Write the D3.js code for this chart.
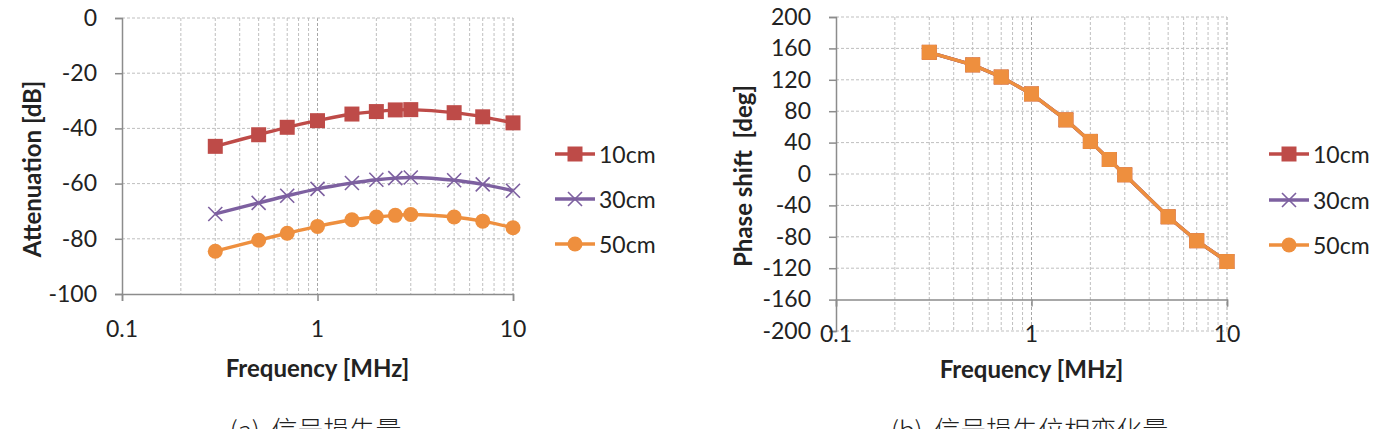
<!DOCTYPE html>
<html><head><meta charset="utf-8">
<script src="https://cdn.jsdelivr.net/npm/d3@7"></script>
<style>
html,body{margin:0;padding:0;background:#fff;}
svg{display:block;}
text{font-family:Lato,"Noto Sans",sans-serif;fill:#222;}
</style></head>
<body>
<svg id="c" width="1379" height="429"></svg>
<script>
const freqs = [0.3, 0.5, 0.7, 1, 1.5, 2, 2.5, 3, 5, 7, 10];
const seriesNames = ["10cm", "30cm", "50cm"];
const atten10 = [-46.5, -42.3, -39.6, -37.2, -34.8, -33.9, -33.3, -33.2, -34.3, -35.8, -38.0];
const atten30 = [-71.0, -67.0, -64.4, -61.9, -59.8, -58.6, -58.0, -57.8, -58.8, -60.3, -62.6];
const atten50 = [-84.5, -80.5, -78.0, -75.5, -73.1, -72.1, -71.5, -71.2, -72.1, -73.6, -76.0];
const phase10 = [155, 139, 123.5, 102, 69, 41.5, 18.5, -1, -54.5, -85, -111.5];
const phase30 = [155, 139, 123.5, 102, 69, 41.5, 18.5, -1, -54.5, -85, -111.5];
const phase50 = [155, 139, 123.5, 102, 69, 41.5, 18.5, -1, -54.5, -85, -111.5];
const xTicks = [0.1, 1, 10];
const xTickLabels = ["0.1", "1", "10"];
const attenTicks = [0, -20, -40, -60, -80, -100];
const phaseTicks = [200, 160, 120, 80, 40, 0, -40, -80, -120, -160, -200];
const colors = ["#BE4B48", "#7D60A0", "#EE8F3E"];
const captions = ["(a)  信号损失量", "(b)  信号损失位相变化量"];

const svg = d3.select("#c");
const minorTicks = [];
[0.1, 1].forEach(d => { for (let k = 2; k <= 9; k++) minorTicks.push(d * k); });

function markerPath(type, size) {
  if (type === "square") return d3.symbol(d3.symbolSquare, size * size)();
  if (type === "circle") return d3.symbol(d3.symbolCircle, Math.PI * (size / 2) * (size / 2))();
  const h = size / 2;
  return `M${-h},${-h}L${h},${h}M${-h},${h}L${h},${-h}`;
}

function drawChart(cfg) {
  const g = svg.append("g");
  const x = d3.scaleLog().domain([0.1, 10]).range([cfg.x0, cfg.x1]);
  const y = d3.scaleLinear().domain(cfg.yDomain).range([cfg.yBottom, cfg.yTop]);
  const grid = "#BFBFBF";
  g.append("g").selectAll("line").data(minorTicks.concat([1, 10])).join("line")
    .attr("x1", d => x(d)).attr("x2", d => x(d))
    .attr("y1", y(cfg.yDomain[1])).attr("y2", y(cfg.yDomain[0]))
    .attr("stroke", d => (d === 1 || d === 10) ? "#A6A6A6" : grid)
    .attr("stroke-width", 1).attr("stroke-dasharray", "3,2");
  g.append("g").selectAll("line").data(cfg.yTicks.filter(t => t !== cfg.axisAt)).join("line")
    .attr("x1", x(0.1)).attr("x2", x(10))
    .attr("y1", d => y(d)).attr("y2", d => y(d))
    .attr("stroke", grid).attr("stroke-width", 1).attr("stroke-dasharray", "3,2");
  const yAxis = d3.axisLeft(y).tickValues(cfg.yTicks).tickSize(7).tickPadding(cfg.yPad).tickFormat(d => String(d));
  const ya = g.append("g").attr("transform", `translate(${x(0.1)},0)`).call(yAxis);
  ya.select(".domain").attr("stroke", "#8C8C8C").attr("stroke-width", 1.5);
  ya.selectAll(".tick line").attr("stroke", "#8C8C8C").attr("stroke-width", 1.5);
  ya.selectAll("text").style("font-size", "23px").attr("fill", "#222").attr("font-family", "Lato");
  const xAxis = d3.axisBottom(x).tickValues(xTicks).tickSize(7).tickFormat(() => "");
  const xa = g.append("g").attr("transform", `translate(0,${y(cfg.axisAt)})`).call(xAxis);
  xa.select(".domain").attr("stroke", "#8C8C8C").attr("stroke-width", 1.5);
  xa.selectAll(".tick line").attr("stroke", "#8C8C8C").attr("stroke-width", 1.5);
  g.append("g").selectAll("text").data(xTicks).join("text")
    .attr("x", d => x(d)).attr("y", cfg.xLabelY)
    .attr("text-anchor", "middle").attr("dominant-baseline", "central")
    .style("font-size", "23px").text((d, i) => xTickLabels[i]);
  g.append("text").attr("x", (cfg.x0 + cfg.x1) / 2).attr("y", cfg.xTitleY)
    .attr("text-anchor", "middle").attr("dominant-baseline", "central")
    .style("font-size", "24px").style("font-weight", "bold").text("Frequency [MHz]");
  g.append("text").attr("transform", `translate(${cfg.yTitleX},${cfg.yTitleY}) rotate(-90)`)
    .attr("text-anchor", "middle").attr("dominant-baseline", "central")
    .style("font-size", "24px").style("font-weight", "bold").attr("xml:space", "preserve").text(cfg.yTitle);
  const line = d3.line().x(d => x(d[0])).y(d => y(d[1])).curve(cfg.curve);
  const markers = cfg.markers;
  cfg.series.forEach((vals, i) => {
    const pts = freqs.map((f, j) => [f, vals[j]]);
    g.append("path").datum(pts).attr("d", line).attr("fill", "none")
      .attr("stroke", colors[i]).attr("stroke-width", 3.4).attr("stroke-linejoin", "round");
    g.append("g").selectAll("path").data(pts).join("path")
      .attr("transform", d => `translate(${x(d[0])},${y(d[1])})`)
      .attr("d", markerPath(markers[i], markers[i] === "cross" ? 14 : 15))
      .attr("fill", markers[i] === "cross" ? "none" : colors[i])
      .attr("stroke", colors[i]).attr("stroke-width", markers[i] === "cross" ? 1.6 : 0);
  });
  const lg = g.append("g");
  seriesNames.forEach((name, i) => {
    const ly = cfg.legendY[i];
    lg.append("line").attr("x1", cfg.legendX).attr("x2", cfg.legendX + 40)
      .attr("y1", ly).attr("y2", ly).attr("stroke", colors[i]).attr("stroke-width", 3.4);
    const mk = ["square", "cross", "circle"][i];
    lg.append("path").attr("transform", `translate(${cfg.legendX + 20},${ly})`)
      .attr("d", markerPath(mk, mk === "cross" ? 14 : 15))
      .attr("fill", mk === "cross" ? "none" : colors[i])
      .attr("stroke", colors[i]).attr("stroke-width", mk === "cross" ? 1.6 : 0);
    lg.append("text").attr("x", cfg.legendX + 44).attr("y", ly)
      .attr("dominant-baseline", "central").style("font-size", "23px").text(name);
  });
  g.append("text").attr("x", (cfg.x0 + cfg.x1) / 2 - 2).attr("y", 416)
    .attr("text-anchor", "middle").attr("dominant-baseline", "hanging")
    .attr("xml:space", "preserve")
    .style("font-family", "'Noto Sans CJK SC'").style("font-size", "26px").style("font-weight", "300").attr("fill", "#333")
    .text(cfg.caption);
}

drawChart({
  x0: 122, x1: 513, yTop: 18, yBottom: 294, yDomain: [-100, 0],
  yTicks: attenTicks, axisAt: -100, xLabelY: 328, xTitleY: 367, yPad: 18,
  yTitle: "Attenuation [dB]", yTitleX: 31, yTitleY: 169,
  series: [atten10, atten30, atten50], markers: ["square", "cross", "circle"],
  curve: d3.curveCatmullRom.alpha(0.5),
  legendX: 555, legendY: [154, 199, 244], caption: captions[0]
});
drawChart({
  x0: 836, x1: 1227, yTop: 17, yBottom: 331, yDomain: [-200, 200],
  yTicks: phaseTicks, axisAt: -160, xLabelY: 333, xTitleY: 368, yPad: 18,
  yTitle: "Phase shift  [deg]", yTitleX: 742, yTitleY: 176,
  series: [phase10, phase30, phase50], markers: ["square", "cross", "square"],
  curve: d3.curveLinear,
  legendX: 1269, legendY: [154, 200, 245], caption: captions[1]
});
</script>
</body></html>
